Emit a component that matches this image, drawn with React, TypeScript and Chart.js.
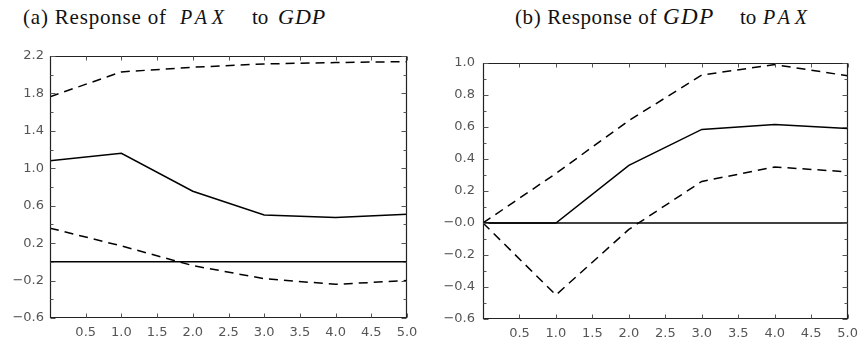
import React, { useEffect, useRef } from 'react';
import { Chart, registerables } from 'chart.js';

Chart.register(...registerables);

// ---------- data ----------
const steps = [0, 1, 2, 3, 4, 5];

// (a) Response of PAX to GDP
const paxToGdpResponse = [1.08, 1.16, 0.755, 0.5, 0.475, 0.51];
const paxToGdpUpper = [1.765, 2.03, 2.08, 2.115, 2.13, 2.14];
const paxToGdpLower = [0.36, 0.17, -0.04, -0.18, -0.24, -0.2];

// (b) Response of GDP to PAX
const gdpToPaxResponse = [0, 0, 0.36, 0.585, 0.615, 0.59];
const gdpToPaxUpper = [0, 0.31, 0.64, 0.925, 0.99, 0.92];
const gdpToPaxLower = [0, -0.45, -0.04, 0.26, 0.35, 0.32];

const zeroLine = [0, 0, 0, 0, 0, 0];

const xTickValues = [0.5, 1.0, 1.5, 2.0, 2.5, 3.0, 3.5, 4.0, 4.5, 5.0];
const xTickLabels = ['0.5', '1.0', '1.5', '2.0', '2.5', '3.0', '3.5', '4.0', '4.5', '5.0'];

const leftYTickValues = [-0.6, -0.2, 0.2, 0.6, 1.0, 1.4, 1.8, 2.2];
const leftYTickLabels = ['\u22120.6', '\u22120.2', '0.2', '0.6', '1.0', '1.4', '1.8', '2.2'];
const leftYMinorTicks = [-0.4, 0.0, 0.4, 0.8, 1.2, 1.6, 2.0];

const rightYTickValues = [-0.6, -0.4, -0.2, 0.0, 0.2, 0.4, 0.6, 0.8, 1.0];
const rightYTickLabels = ['\u22120.6', '\u22120.4', '\u22120.2', '\u22120.0', '0.2', '0.4', '0.6', '0.8', '1.0'];
const rightYMinorTicks = [-0.5, -0.3, -0.1, 0.1, 0.3, 0.5, 0.7, 0.9];

// ---------- helpers ----------
const toPoints = (ys: number[]) => steps.map((x, i) => ({ x, y: ys[i] }));

const framePlugin = {
  id: 'frameTicks',
  afterDatasetsDraw(chart: any, _args: any, opts: any) {
    const { ctx, chartArea, scales } = chart;
    const { left, right, top, bottom } = chartArea;
    const x = scales.x;
    const y = scales.y;
    ctx.save();
    ctx.strokeStyle = '#222';
    ctx.lineWidth = 1.2;
    const L = Math.round(left) + 0.5;
    const R = Math.round(right) - 0.5;
    const T = Math.round(top) + 0.5;
    const B = Math.round(bottom) - 0.5;
    ctx.beginPath();
    ctx.rect(L, T, R - L, B - T);
    ctx.stroke();
    ctx.strokeStyle = '#555';
    ctx.lineWidth = 1;
    ctx.beginPath();
    const hTick = (v: number, len: number) => {
      const py = Math.round(y.getPixelForValue(v)) + 0.5;
      ctx.moveTo(L, py);
      ctx.lineTo(L + len, py);
      ctx.moveTo(R, py);
      ctx.lineTo(R - len, py);
    };
    (opts.yMajor || []).forEach((v: number) => hTick(v, 5));
    (opts.yMinor || []).forEach((v: number) => hTick(v, 3));
    (opts.xMajor || []).forEach((v: number) => {
      const px = Math.round(x.getPixelForValue(v)) + 0.5;
      ctx.moveTo(px, B);
      ctx.lineTo(px, B - 4);
      ctx.moveTo(px, T);
      ctx.lineTo(px, T + 4);
    });
    ctx.stroke();
    ctx.restore();
  },
};

const tickFont = { family: '"DejaVu Sans", sans-serif', size: 13 };
const tickColor = '#555';

function makeConfig(
  response: number[],
  upper: number[],
  lower: number[],
  yMin: number,
  yMax: number,
  yTicks: number[],
  yLabels: string[],
  yMinor: number[],
  yAxisWidth: number,
  yPad: number,
  padding: { top: number; right: number },
  xAxisHeight: number
): any {
  const solid = {
    borderColor: '#000',
    borderWidth: 1.5,
    pointRadius: 0,
    fill: false,
    tension: 0,
  };
  const dashed = { ...solid, borderDash: [9, 6] };
  return {
    type: 'line',
    data: {
      datasets: [
        { data: toPoints(zeroLine), ...solid },
        { data: toPoints(response), ...solid },
        { data: toPoints(upper), ...dashed },
        { data: toPoints(lower), ...dashed },
      ],
    },
    options: {
      animation: false,
      responsive: false,
      maintainAspectRatio: false,
      layout: { padding: { top: padding.top, right: padding.right, left: 0, bottom: 0 } },
      plugins: {
        legend: { display: false },
        tooltip: { enabled: false },
        title: { display: false },
        frameTicks: { yMajor: yTicks, yMinor: yMinor, xMajor: xTickValues },
      },
      scales: {
        x: {
          type: 'linear',
          min: 0,
          max: 5,
          grid: { display: false, drawTicks: false },
          border: { display: false },
          afterBuildTicks: (scale: any) => {
            scale.ticks = xTickValues.map((v) => ({ value: v }));
          },
          afterFit: (scale: any) => {
            scale.height = xAxisHeight;
          },
          ticks: {
            autoSkip: false,
            maxRotation: 0,
            padding: 7,
            color: tickColor,
            font: tickFont,
            callback: (v: number) => {
              const i = xTickValues.findIndex((t) => Math.abs(t - v) < 1e-6);
              return i >= 0 ? xTickLabels[i] : '';
            },
          },
        },
        y: {
          type: 'linear',
          min: yMin,
          max: yMax,
          grid: { display: false, drawTicks: false },
          border: { display: false },
          afterBuildTicks: (scale: any) => {
            scale.ticks = yTicks.map((v) => ({ value: v }));
          },
          afterFit: (scale: any) => {
            scale.width = yAxisWidth;
          },
          ticks: {
            autoSkip: false,
            padding: yPad,
            color: tickColor,
            font: tickFont,
            callback: (v: number) => {
              const i = yTicks.findIndex((t) => Math.abs(t - v) < 1e-6);
              return i >= 0 ? yLabels[i] : '';
            },
          },
        },
      },
    },
    plugins: [framePlugin],
  };
}

function ChartCanvas({ config, width, height }: { config: any; width: number; height: number }) {
  const ref = useRef<HTMLCanvasElement | null>(null);
  useEffect(() => {
    if (!ref.current) return;
    const chart = new Chart(ref.current, config);
    return () => chart.destroy();
  }, [config]);
  return <canvas ref={ref} width={width} height={height} style={{ width, height, display: 'block' }} />;
}

const serif = '"Liberation Serif", "Times New Roman", serif';

const leftConfig = makeConfig(
  paxToGdpResponse,
  paxToGdpUpper,
  paxToGdpLower,
  -0.6,
  2.2,
  leftYTickValues,
  leftYTickLabels,
  leftYMinorTicks,
  50,
  6,
  { top: 16, right: 23 },
  24
);

const rightConfig = makeConfig(
  gdpToPaxResponse,
  gdpToPaxUpper,
  gdpToPaxLower,
  -0.6,
  1.0,
  rightYTickValues,
  rightYTickLabels,
  rightYMinorTicks,
  53,
  8,
  { top: 23, right: 13 },
  23
);

export default function App() {
  const seg = (w: number | undefined, extra: React.CSSProperties = {}): React.CSSProperties => ({
    display: 'inline-block',
    width: w,
    ...extra,
  });
  return (
    <div
      style={{
        position: 'absolute',
        left: 0,
        top: 0,
        width: 865,
        height: 342,
        background: '#ffffff',
        overflow: 'hidden',
      }}
    >
      <div
        style={{
          position: 'absolute',
          left: 23,
          top: 2,
          lineHeight: '30px',
          whiteSpace: 'nowrap',
          fontFamily: serif,
          color: '#111',
        }}
      >
        <span style={seg(157, { fontSize: 21, letterSpacing: 0.8 })}>(a) Response of</span>
        <span style={seg(72, { fontSize: 20, fontStyle: 'italic', letterSpacing: 5 })}>PAX</span>
        <span style={seg(26, { fontSize: 21 })}>to</span>
        <span style={seg(undefined, { fontSize: 22, fontStyle: 'italic', letterSpacing: 1 })}>GDP</span>
      </div>
      <div
        style={{
          position: 'absolute',
          left: 515,
          top: 2,
          lineHeight: '30px',
          whiteSpace: 'nowrap',
          fontFamily: serif,
          color: '#111',
        }}
      >
        <span style={seg(148, { fontSize: 21, letterSpacing: 0.6 })}>(b) Response of</span>
        <span style={seg(77, { fontSize: 23, fontStyle: 'italic', letterSpacing: 1.5 })}>GDP</span>
        <span style={seg(23, { fontSize: 21 })}>to</span>
        <span style={seg(undefined, { fontSize: 20, fontStyle: 'italic', letterSpacing: 5 })}>PAX</span>
      </div>
      <div style={{ position: 'absolute', left: 0, top: 40, width: 430, height: 302 }}>
        <ChartCanvas config={leftConfig} width={430} height={302} />
      </div>
      <div style={{ position: 'absolute', left: 430, top: 40, width: 435, height: 302 }}>
        <ChartCanvas config={rightConfig} width={435} height={302} />
      </div>
    </div>
  );
}
